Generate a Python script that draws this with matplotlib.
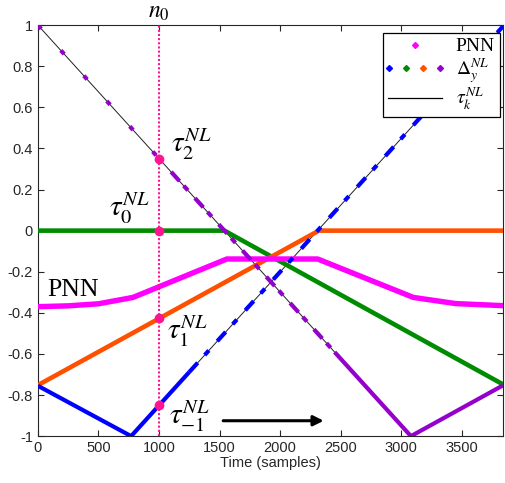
import matplotlib
matplotlib.use("Agg")
import matplotlib.pyplot as plt
from matplotlib.lines import Line2D
from matplotlib.legend_handler import HandlerTuple

plt.rcParams['axes.unicode_minus'] = False
plt.rcParams['mathtext.fontset'] = 'stix'
plt.rcParams['font.family'] = ['Liberation Sans', 'DejaVu Sans']

# ---- data ----
n0 = 1000
xticks = [0, 500, 1000, 1500, 2000, 2500, 3000, 3500]
yticks = [-1, -0.8, -0.6, -0.4, -0.2, 0, 0.2, 0.4, 0.6, 0.8, 1]
ytick_labels = ['-1', '-0.8', '-0.6', '-0.4', '-0.2', '0', '0.2', '0.4', '0.6', '0.8', '1']

# tau_k^NL black reference (triangle wave pieces)
tau_a_x = [0, 3080, 3840]
tau_a_y = [1.0, -1.0, -0.753]
tau_b_x = [0, 770, 3840]
tau_b_y = [-0.755, -1.0, 0.994]

# PNN
pnn_x = [0, 250, 500, 785, 1560, 2310, 3100, 3450, 3840]
pnn_y = [-0.37, -0.366, -0.356, -0.325, -0.138, -0.138, -0.325, -0.355, -0.365]

# Delta_y^NL
green_x = [0, 1540, 3840]
green_y = [0.0, 0.0, -0.748]
orange_x = [0, 2320, 3840]
orange_y = [-0.752, 0.0, 0.0]
purple_x = [0, 1100, 2450, 3080, 3840]
purple_y = [1.0, 0.286, -0.591, -1.0, -0.753]
blue_x = [0, 770, 1250, 3840]
blue_y = [-0.755, -1.0, -0.688, 0.994]

# marked values at n0
mark_y = [0.35, 0.0, -0.425, -0.85]

# colours
c_pnn = '#ff00ff'
c_blue = '#0000ff'
c_green = '#008c00'
c_orange = '#ff5000'
c_purple = '#9400cc'
c_n0 = '#ff1493'

fig = plt.figure(figsize=(5.05, 4.83), dpi=100)
ax = fig.add_axes([0.075, 0.097, 0.921, 0.851])

ax.plot(tau_a_x, tau_a_y, color='#202020', lw=0.7, zorder=2)
ax.plot(tau_b_x, tau_b_y, color='#202020', lw=0.7, zorder=2)

ax.plot(green_x, green_y, color=c_green, lw=3.3, zorder=3, solid_capstyle='butt')
ax.plot(orange_x, orange_y, color=c_orange, lw=3.3, zorder=3, solid_capstyle='butt')
ax.plot(pnn_x, pnn_y, color=c_pnn, lw=3.9, zorder=3)

# purple: sparse points, then dashes, then solid
ax.plot(purple_x[0:2], purple_y[0:2], color=c_purple, lw=3.0, zorder=4,
        linestyle=(0, (1.2, 7)))
ax.plot(purple_x[1:3], purple_y[1:3], color=c_purple, lw=3.0, zorder=4,
        linestyle=(0, (3, 1.5, 1.5, 2.5)))
ax.plot(purple_x[2:], purple_y[2:], color=c_purple, lw=3.0, zorder=4,
        solid_capstyle='butt')
# blue: solid, then dashes
ax.plot(blue_x[0:3], blue_y[0:3], color=c_blue, lw=3.0, zorder=4,
        solid_capstyle='butt')
ax.plot(blue_x[2:], blue_y[2:], color=c_blue, lw=3.0, zorder=4,
        linestyle=(0, (3, 2.5, 1.5, 3)))

# n0 vertical line and marks
ax.axvline(n0, color=c_n0, lw=1.5, linestyle=(0, (1, 1)), zorder=5)
ax.plot([n0] * len(mark_y), mark_y, 'o', color=c_n0, ms=6, zorder=6)

# annotations
tfs = 21
ax.text(1100, 0.42, r'$\tau_2^{NL}$', fontsize=tfs, ha='left', va='center', zorder=7)
ax.text(585, 0.11, r'$\tau_0^{NL}$', fontsize=tfs, ha='left', va='center', zorder=7)
ax.text(1065, -0.49, r'$\tau_1^{NL}$', fontsize=tfs, ha='left', va='center', zorder=7)
ax.text(1080, -0.905, r'$\tau_{-1}^{NL}$', fontsize=tfs, ha='left', va='center', zorder=7)
ax.text(80, -0.29, 'PNN', fontsize=18.5, family='Liberation Serif', ha='left', va='center', zorder=7)
ax.annotate('', xy=(2360, -0.925), xytext=(1530, -0.925),
            arrowprops=dict(arrowstyle='-|>', color='black', lw=2.2,
                            mutation_scale=15, shrinkA=0, shrinkB=0), zorder=7)
ax.text(n0, 1.012, r'$n_0$', fontsize=17, ha='center', va='bottom',
        transform=ax.transData, clip_on=False)

ax.set_xlim(0, 3840)
ax.set_ylim(-1, 1)
ax.set_xticks(xticks)
ax.set_yticks(yticks)
ax.set_xticklabels([str(v) for v in xticks])
ax.set_yticklabels(ytick_labels)
ax.tick_params(direction='in', length=4, width=0.8, top=True, right=True,
               labelsize=10.5, colors='#262626', labelcolor='#262626')
for s in ax.spines.values():
    s.set_color('#262626')
    s.set_linewidth(0.8)
ax.set_xlabel('Time (samples)', fontsize=10.5, color='#262626', labelpad=1)

# legend
h_pnn = Line2D([], [], color=c_pnn, marker='D', ms=3, ls='none')
hd = tuple(Line2D([], [], color=c, marker='D', ms=3, ls='none')
           for c in (c_blue, c_green, c_orange, c_purple))
h_tau = Line2D([], [], color='black', lw=0.9)
leg = ax.legend([h_pnn, hd, h_tau], ['PNN', r'$\Delta_y^{NL}$', r'$\tau_k^{NL}$'],
                handler_map={tuple: HandlerTuple(ndivide=None, pad=0.7)},
                loc='upper right', bbox_to_anchor=(0.993, 0.981), borderaxespad=0,
                fancybox=False, edgecolor='black', framealpha=1, handlelength=2.8,
                borderpad=0.25, labelspacing=0.05, handletextpad=0.7,
                prop={'family': 'Liberation Serif', 'size': 14})
leg.get_frame().set_linewidth(0.9)
leg.set_zorder(10)

fig.savefig('out.png', dpi=100)
